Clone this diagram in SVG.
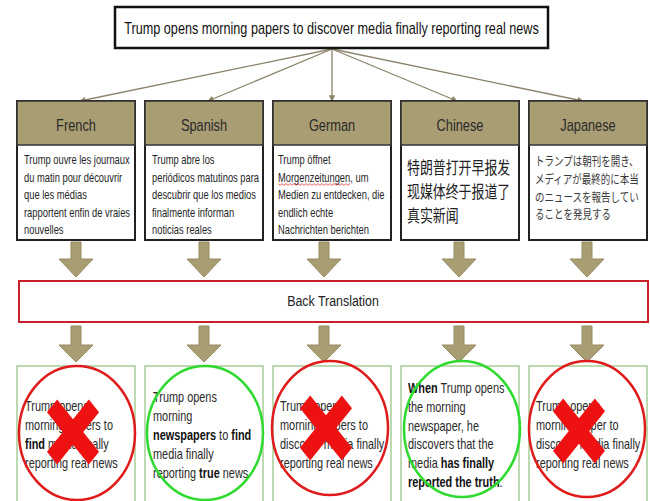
<svg xmlns="http://www.w3.org/2000/svg" width="650" height="501" viewBox="0 0 650 501">
<defs>
<style>
text{font-family:"Liberation Sans",Arial,sans-serif;fill:#222}
.title{font-size:16px;text-anchor:middle;fill:#111}
.hdr{font-size:16px;text-anchor:middle;fill:#2a2a2a}
.body{font-size:12px;fill:#262626}
.zh{font-family:"Noto Sans CJK SC","Noto Sans CJK TC",sans-serif;font-size:17px;fill:#222}
.ja{font-family:"Noto Sans CJK JP",sans-serif;font-size:12.5px;fill:#3a3a3a}
.res{font-size:14px;fill:#2a2a2a}
.b{font-weight:bold;fill:#111}
.card{fill:#fff;stroke:#222;stroke-width:2}
.head{fill:#A99D73;stroke:#333;stroke-width:1.5}
.rbox{fill:#fff;stroke:#A6CD96;stroke-width:1.5}
.no{fill:none;stroke:#E01B1B;stroke-width:2.5}
.yes{fill:none;stroke:#2FDA2F;stroke-width:2.5}
.link{stroke:#8C8469;stroke-width:1.3;fill:none;marker-end:url(#ah)}
.blk{fill:#A99D73;stroke:#958B63;stroke-width:1}
.xm{fill:#EE1111}
</style>
<marker id="ah" viewBox="0 0 10 10" refX="9" refY="5" markerWidth="5" markerHeight="5" orient="auto"><path d="M0,0 L10,5 L0,10 z" fill="#8C8469"/></marker>
<g id="cross"><rect class="xm" x="-37" y="-9" width="74" height="18" transform="rotate(45)"/><rect class="xm" x="-37" y="-9" width="74" height="18" transform="rotate(-45)"/></g>
<pattern id="squig" width="4" height="3" patternUnits="userSpaceOnUse" x="278" y="183"><path d="M0,0.6 L2,2.4 L4,0.6" fill="none" stroke="#E03030" stroke-width="0.8"/></pattern>
</defs>
<rect width="650" height="501" fill="#fff"/>

<g id="connectors">
<path class="link" d="M332,49 L80,101"/>
<path class="link" d="M332,49 L208,101"/>
<path class="link" d="M332,49 L332,101"/>
<path class="link" d="M332,49 L457,101"/>
<path class="link" d="M332,49 L583,101"/>
<path class="blk" d="M71,242 h10 v17 h12 l-17,18 l-17,-18 h12 z"/>
<path class="blk" d="M199,242 h10 v17 h12 l-17,18 l-17,-18 h12 z"/>
<path class="blk" d="M319,242 h10 v17 h12 l-17,18 l-17,-18 h12 z"/>
<path class="blk" d="M454,242 h10 v17 h12 l-17,18 l-17,-18 h12 z"/>
<path class="blk" d="M582,242 h10 v17 h12 l-17,18 l-17,-18 h12 z"/>
<path class="blk" d="M71,326 h10 v19 h12 l-17,17 l-17,-17 h12 z"/>
<path class="blk" d="M199,326 h10 v19 h12 l-17,17 l-17,-17 h12 z"/>
<path class="blk" d="M319,326 h10 v19 h12 l-17,17 l-17,-17 h12 z"/>
<path class="blk" d="M454,326 h10 v19 h12 l-17,17 l-17,-17 h12 z"/>
<path class="blk" d="M582,326 h10 v19 h12 l-17,17 l-17,-17 h12 z"/>
</g>

<g id="title">
<rect x="115" y="7" width="433" height="41" fill="#fff" stroke="#111" stroke-width="2.5"/>
<text class="title" transform="matrix(0.79 0 0 1 331.5 34)">Trump opens morning papers to discover media finally reporting real news</text>
</g>

<g id="french">
<rect class="card" x="17" y="101" width="118" height="139"/>
<rect class="head" x="17" y="101" width="118" height="44"/>
<text class="hdr" transform="matrix(0.8 0 0 1 76 131)">French</text>
<text class="body" transform="matrix(0.78 0 0 1 24 164)">Trump ouvre les journaux</text>
<text class="body" transform="matrix(0.78 0 0 1 24 181.5)">du matin pour découvrir</text>
<text class="body" transform="matrix(0.78 0 0 1 24 199)">que les médias</text>
<text class="body" transform="matrix(0.78 0 0 1 24 216.5)">rapportent enfin de vraies</text>
<text class="body" transform="matrix(0.78 0 0 1 24 234)">nouvelles</text>
</g>

<g id="spanish">
<rect class="card" x="145" y="101" width="118" height="139"/>
<rect class="head" x="145" y="101" width="118" height="44"/>
<text class="hdr" transform="matrix(0.8 0 0 1 204 131)">Spanish</text>
<text class="body" transform="matrix(0.78 0 0 1 152 164)">Trump abre los</text>
<text class="body" transform="matrix(0.78 0 0 1 152 181.5)">periódicos matutinos para</text>
<text class="body" transform="matrix(0.78 0 0 1 152 199)">descubrir que los medios</text>
<text class="body" transform="matrix(0.78 0 0 1 152 216.5)">finalmente informan</text>
<text class="body" transform="matrix(0.78 0 0 1 152 234)">noticias reales</text>
</g>

<g id="german">
<rect class="card" x="273" y="101" width="118" height="139"/>
<rect class="head" x="273" y="101" width="118" height="44"/>
<text class="hdr" transform="matrix(0.8 0 0 1 332 131)">German</text>
<text class="body" transform="matrix(0.78 0 0 1 278 164)">Trump öffnet</text>
<text class="body" transform="matrix(0.78 0 0 1 278 181.5)">Morgenzeitungen, um</text>
<rect x="278" y="183" width="72" height="3" fill="url(#squig)"/>
<text class="body" transform="matrix(0.78 0 0 1 278 199)">Medien zu entdecken, die</text>
<text class="body" transform="matrix(0.78 0 0 1 278 216.5)">endlich echte</text>
<text class="body" transform="matrix(0.78 0 0 1 278 234)">Nachrichten berichten</text>
</g>

<g id="chinese">
<rect class="card" x="401" y="101" width="118" height="139"/>
<rect class="head" x="401" y="101" width="118" height="44"/>
<text class="hdr" transform="matrix(0.8 0 0 1 460 131)">Chinese</text>
<text class="zh" transform="matrix(0.76 0 0 1 407 174)">特朗普打开早报发</text>
<text class="zh" transform="matrix(0.76 0 0 1 407 198)">现媒体终于报道了</text>
<text class="zh" transform="matrix(0.76 0 0 1 407 222)">真实新闻</text>
</g>

<g id="japanese">
<rect class="card" x="529" y="101" width="118" height="139"/>
<rect class="head" x="529" y="101" width="118" height="44"/>
<text class="hdr" transform="matrix(0.8 0 0 1 588 131)">Japanese</text>
<text class="ja" transform="matrix(0.76 0 0 1 535 166)">トランプは朝刊を開き、</text>
<text class="ja" transform="matrix(0.76 0 0 1 535 184)">メディアが最終的に本当</text>
<text class="ja" transform="matrix(0.76 0 0 1 535 202)">のニュースを報告してい</text>
<text class="ja" transform="matrix(0.76 0 0 1 535 219)">ることを発見する</text>
</g>

<g id="back-translation">
<rect x="19" y="281" width="629" height="41" fill="#fff" stroke="#C8202A" stroke-width="2"/>
<text class="hdr" style="font-size:15.5px;fill:#222" transform="matrix(0.8 0 0 1 333 306)">Back Translation</text>
</g>

<g id="result-french">
<rect class="rbox" x="17" y="366" width="118" height="150"/>
<text class="res" transform="matrix(0.78 0 0 1 25 411)">Trump opens</text>
<text class="res" transform="matrix(0.78 0 0 1 25 430)">morning papers to</text>
<text class="res" transform="matrix(0.78 0 0 1 25 449)"><tspan class="b">find</tspan> media finally</text>
<text class="res" transform="matrix(0.78 0 0 1 25 468)">reporting real news</text>
<ellipse class="no" cx="77" cy="433" rx="58" ry="67"/>
<use href="#cross" transform="translate(73 432) scale(0.8 1)"/>
</g>

<g id="result-spanish">
<rect class="rbox" x="145" y="366" width="118" height="150"/>
<text class="res" transform="matrix(0.78 0 0 1 153 402)">Trump opens</text>
<text class="res" transform="matrix(0.78 0 0 1 153 421)">morning</text>
<text class="res" transform="matrix(0.78 0 0 1 153 440)"><tspan class="b">newspapers</tspan> to <tspan class="b">find</tspan></text>
<text class="res" transform="matrix(0.78 0 0 1 153 459)">media finally</text>
<text class="res" transform="matrix(0.78 0 0 1 153 478)">reporting <tspan class="b">true</tspan> news</text>
<ellipse class="yes" cx="205" cy="433" rx="58" ry="67"/>
</g>

<g id="result-german">
<rect class="rbox" x="273" y="366" width="118" height="150"/>
<text class="res" transform="matrix(0.78 0 0 1 280 411)">Trump opens</text>
<text class="res" transform="matrix(0.78 0 0 1 280 430)">morning papers to</text>
<text class="res" transform="matrix(0.78 0 0 1 280 449)">discover media finally</text>
<text class="res" transform="matrix(0.78 0 0 1 280 468)">reporting real news</text>
<ellipse class="no" cx="330" cy="428" rx="58" ry="67"/>
<use href="#cross" transform="translate(326 428) scale(0.8 1)"/>
</g>

<g id="result-chinese">
<rect class="rbox" x="401" y="366" width="118" height="150"/>
<text class="res" transform="matrix(0.78 0 0 1 408 393)"><tspan class="b">When</tspan> Trump opens</text>
<text class="res" transform="matrix(0.78 0 0 1 408 412)">the morning</text>
<text class="res" transform="matrix(0.78 0 0 1 408 431)">newspaper, he</text>
<text class="res" transform="matrix(0.78 0 0 1 408 449)">discovers that the</text>
<text class="res" transform="matrix(0.78 0 0 1 408 468)">media <tspan class="b">has finally</tspan></text>
<text class="res" transform="matrix(0.78 0 0 1 408 487)"><tspan class="b">reported the truth</tspan>.</text>
<ellipse class="yes" cx="462" cy="429" rx="58" ry="68"/>
</g>

<g id="result-japanese">
<rect class="rbox" x="529" y="366" width="118" height="150"/>
<text class="res" transform="matrix(0.78 0 0 1 536 411)">Trump opens</text>
<text class="res" transform="matrix(0.78 0 0 1 536 430)">morning paper to</text>
<text class="res" transform="matrix(0.78 0 0 1 536 449)">discover media finally</text>
<text class="res" transform="matrix(0.78 0 0 1 536 468)">reporting real news</text>
<ellipse class="no" cx="587" cy="429" rx="58" ry="68"/>
<use href="#cross" transform="translate(579 431) scale(0.8 1)"/>
</g>
</svg>
